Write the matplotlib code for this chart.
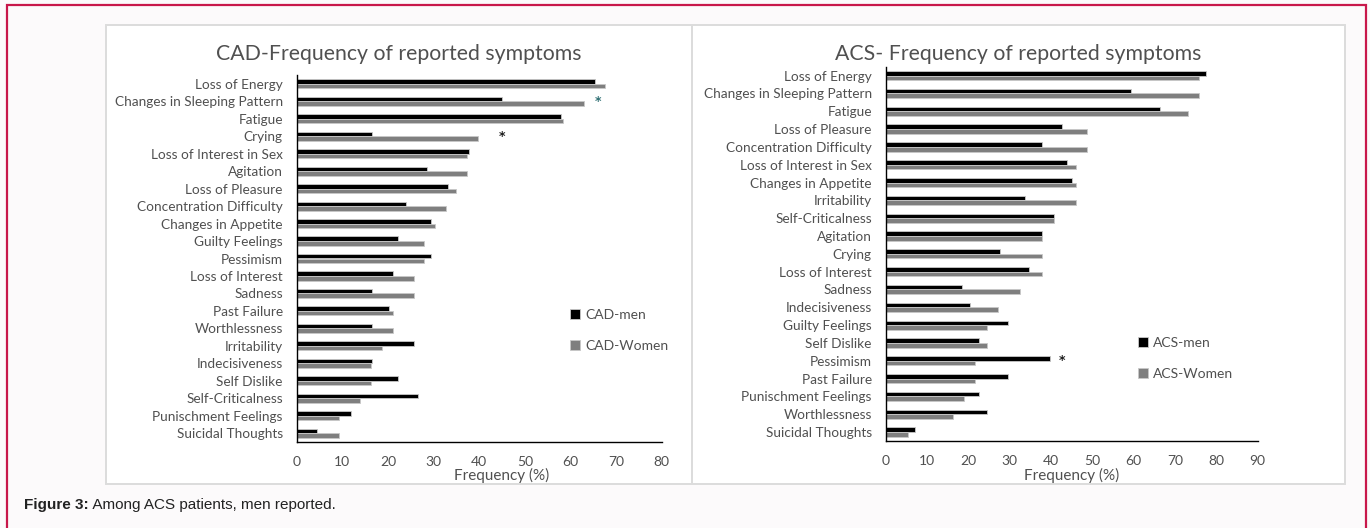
import matplotlib
matplotlib.use("Agg")
import matplotlib.pyplot as plt
from matplotlib.patches import Rectangle
import numpy as np

# CAD panel data (top to bottom)
cad_symptoms = [
    "Loss of Energy", "Changes in Sleeping Pattern", "Fatigue", "Crying",
    "Loss of Interest in Sex", "Agitation", "Loss of Pleasure",
    "Concentration Difficulty", "Changes in Appetite", "Guilty Feelings",
    "Pessimism", "Loss of Interest", "Sadness", "Past Failure",
    "Worthlessness", "Irritability", "Indecisiveness", "Self Dislike",
    "Self-Criticalness", "Punischment Feelings", "Suicidal Thoughts",
]
cad_men = [65.4, 45.1, 57.9, 16.6, 37.7, 28.6, 33.1, 23.9, 29.4, 22.1,
           29.4, 21.1, 16.6, 20.2, 16.6, 25.7, 16.6, 22.1, 26.6, 11.9, 4.5]
cad_women = [67.6, 63.0, 58.3, 39.7, 37.3, 37.3, 34.9, 32.7, 30.3, 27.9,
             27.9, 25.7, 25.7, 21.0, 21.0, 18.6, 16.3, 16.3, 13.9, 9.3, 9.3]
cad_stars = [("Changes in Sleeping Pattern", 66.0, "#2f6f73"), ("Crying", 45.0, "#1a1a1a")]

# ACS panel data (top to bottom)
acs_symptoms = [
    "Loss of Energy", "Changes in Sleeping Pattern", "Fatigue",
    "Loss of Pleasure", "Concentration Difficulty", "Loss of Interest in Sex",
    "Changes in Appetite", "Irritability", "Self-Criticalness", "Agitation",
    "Crying", "Loss of Interest", "Sadness", "Indecisiveness",
    "Guilty Feelings", "Self Dislike", "Pessimism", "Past Failure",
    "Punischment Feelings", "Worthlessness", "Suicidal Thoughts",
]
acs_men = [77.4, 59.3, 66.4, 42.7, 37.8, 43.9, 45.1, 33.8, 40.7, 37.8,
           27.7, 34.7, 18.5, 20.4, 29.5, 22.5, 39.8, 29.5, 22.6, 24.5, 7.1]
acs_women = [75.8, 75.8, 73.1, 48.8, 48.8, 46.0, 46.0, 46.0, 40.6, 37.9,
             37.9, 37.9, 32.5, 27.1, 24.4, 24.4, 21.7, 21.7, 19.0, 16.3, 5.5]
acs_stars = [("Pessimism", 42.6, "#1a1a1a")]

TXT = "#505050"
W, H = 1370, 528

fig = plt.figure(figsize=(W / 100, H / 100), dpi=100, facecolor="#fcfafb")

# outer crimson frame and white chart panels (behind the axes)
fig.patches.append(Rectangle((7 / W, -0.01), (1366 - 7) / W, (H - 5) / H + 0.01,
                             transform=fig.transFigure, fill=False,
                             edgecolor="#c8174a", linewidth=1.6, zorder=-2))
for x0, x1 in [(106, 692), (692, 1345)]:
    fig.patches.append(Rectangle((x0 / W, 1 - 484 / H), (x1 - x0) / W, (484 - 25) / H,
                                 transform=fig.transFigure, facecolor="white",
                                 edgecolor="#dcdcdc", linewidth=1.4, zorder=-1))


def panel(rect, symptoms, men, women, stars, xmax, title, title_x, lab_men, lab_women,
          leg_xy, xlabel_x):
    ax = fig.add_axes(rect)
    ax.set_facecolor("none")
    y = np.arange(len(symptoms))
    h = 0.26
    ax.barh(y - h / 2, men, height=h, color="black", edgecolor="#c8c8c8",
            linewidth=0.6, label=lab_men)
    ax.barh(y + h / 2, women, height=h, color="#7f7f7f", edgecolor="#c8c8c8",
            linewidth=0.6, label=lab_women)
    for name, xv, col in stars:
        ax.text(xv, symptoms.index(name), "*", ha="center", va="center",
                fontsize=9, color=col, fontweight="bold")
    ax.set_ylim(len(symptoms) - 0.5, -0.5)
    ax.set_xlim(0, xmax)
    ax.set_xticks(range(0, xmax + 1, 10))
    ax.set_yticks(y)
    ax.set_yticklabels(symptoms, family="Lato", fontsize=9.8, color=TXT)
    for lbl in ax.get_xticklabels():
        lbl.set_family("Lato")
        lbl.set_fontsize(10)
        lbl.set_color(TXT)
    ax.tick_params(axis="y", length=0, pad=10)
    ax.tick_params(axis="x", length=0, pad=10)
    for s in ["top", "right"]:
        ax.spines[s].set_visible(False)
    for s in ["left", "bottom"]:
        ax.spines[s].set_color("black")
        ax.spines[s].set_linewidth(1.0)
    ax.set_xlabel("Frequency (%)", family="Lato", fontsize=11, color=TXT)
    ax.xaxis.set_label_coords(xlabel_x, -0.071)
    fig.text(title_x / W, 1 - 54 / H, title, ha="center", va="center",
             family="Lato", fontsize=15.3, color=TXT)
    ax.legend(loc="upper left", bbox_to_anchor=(leg_xy[0] / W, 1 - leg_xy[1] / H),
              bbox_transform=fig.transFigure, frameon=False, borderpad=0,
              handlelength=0.75, handleheight=0.75, handletextpad=0.35,
              labelspacing=1.35, prop={"family": "Lato", "size": 10},
              labelcolor=TXT)
    return ax


panel([296.7 / W, 1 - 442 / H, 365 / W, 367 / H], cad_symptoms, cad_men, cad_women,
      cad_stars, 80, "CAD-Frequency of reported symptoms", 399, "CAD-men", "CAD-Women",
      (563, 302), (502 - 296.7) / 365)
panel([885.7 / W, 1 - 441 / H, 372 / W, 374.3 / H], acs_symptoms, acs_men, acs_women,
      acs_stars, 90, "ACS- Frequency of reported symptoms", 1018, "ACS-men", "ACS-Women",
      (1131, 330), 0.5)

t = fig.text(24 / W, 1 - 505 / H, "Figure 3:", family="Liberation Sans",
             fontsize=11, fontweight="bold", color="#222222", va="center")
fig.canvas.draw()
bb = t.get_window_extent()
fig.text(bb.x1 / W, 1 - 505 / H, " Among ACS patients, men reported.",
         family="Liberation Sans", fontsize=11, color="#222222", va="center")

fig.savefig("out.png", dpi=100, facecolor=fig.get_facecolor())
